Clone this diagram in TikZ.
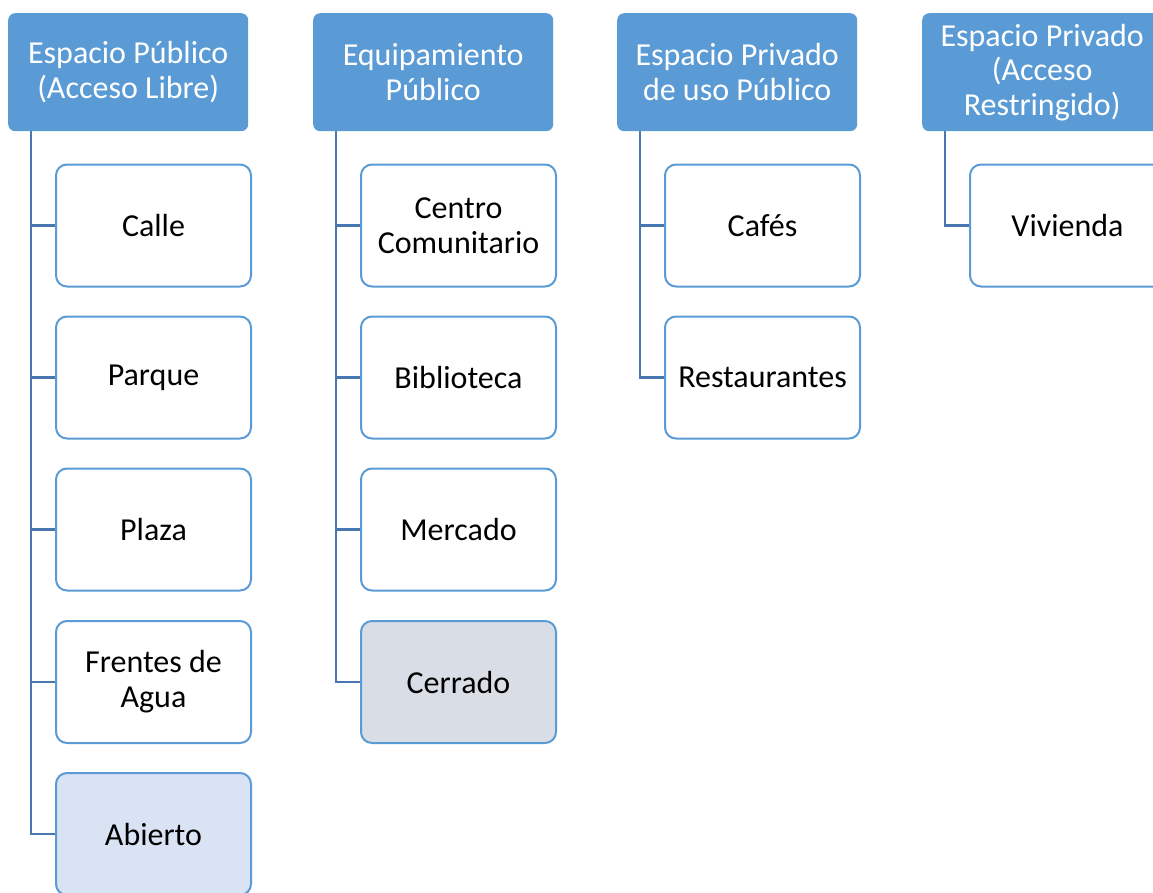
\documentclass[tikz,border=0pt]{standalone}
\usepackage{fontspec}
\setmainfont{Carlito}
\begin{document}
\begin{tikzpicture}[x=1pt,y=-1pt,
  hdr/.style={rectangle, rounded corners=7pt, fill=hblue, draw=none, text=white,
    minimum width=240pt, minimum height=118pt, align=center, anchor=north west,
    font=\fontsize{32}{34.5}\selectfont, inner sep=2pt},
  child/.style={rectangle, rounded corners=11pt, draw=hblue, line width=2pt, fill=white,
    minimum width=195pt, minimum height=122pt, align=center, anchor=north west,
    font=\fontsize{32}{35}\selectfont, text=black, inner sep=2pt},
  conn/.style={draw=lblue, line width=2.5pt}]
\definecolor{hblue}{HTML}{5B9BD5}
\definecolor{lblue}{HTML}{4777AE}
\definecolor{abfill}{HTML}{DAE3F3}
\definecolor{cefill}{HTML}{D9DDE6}
\useasboundingbox (0,0) rectangle (1153,892);
\clip (0,0) rectangle (1153,892);
% headers
\node[hdr] (h1) at (8,13) {Espacio Público\\(Acceso Libre)};
\node[hdr] (h2) at (313,13) {Equipamiento\\Público};
\node[hdr] (h3) at (617,13) {Espacio Privado\\de uso Público};
\node[hdr] (h4) at (922,13) {Espacio Privado\\(Acceso\\Restringido)};
% column 1
\node[child] (a1) at (55,163.5) {Calle};
\node[child] (a2) at (55,315.5) {Parque};
\node[child] (a3) at (55,467.5) {Plaza};
\node[child] (a4) at (55,620) {Frentes de\\Agua};
\node[child, fill=abfill] (a5) at (55,772) {Abierto};
% column 2
\node[child] (b1) at (360,163.5) {Centro\\Comunitario};
\node[child] (b2) at (360,315.5) {Biblioteca};
\node[child] (b3) at (360,467.5) {Mercado};
\node[child, fill=cefill] (b4) at (360,620) {Cerrado};
% column 3
\node[child] (c1) at (664,163.5) {Cafés};
\node[child] (c2) at (664,315.5) {Restaurantes};
% column 4
\node[child] (d1) at (969,163.5) {Vivienda};
% connectors
\foreach \c in {a1,a2,a3,a4,a5}
  \draw[conn] ([xshift=23pt]h1.south west) |- (\c.west);
\foreach \c in {b1,b2,b3,b4}
  \draw[conn] ([xshift=23pt]h2.south west) |- (\c.west);
\foreach \c in {c1,c2}
  \draw[conn] ([xshift=23pt]h3.south west) |- (\c.west);
\draw[conn] ([xshift=23pt]h4.south west) |- (d1.west);
\end{tikzpicture}
\end{document}
